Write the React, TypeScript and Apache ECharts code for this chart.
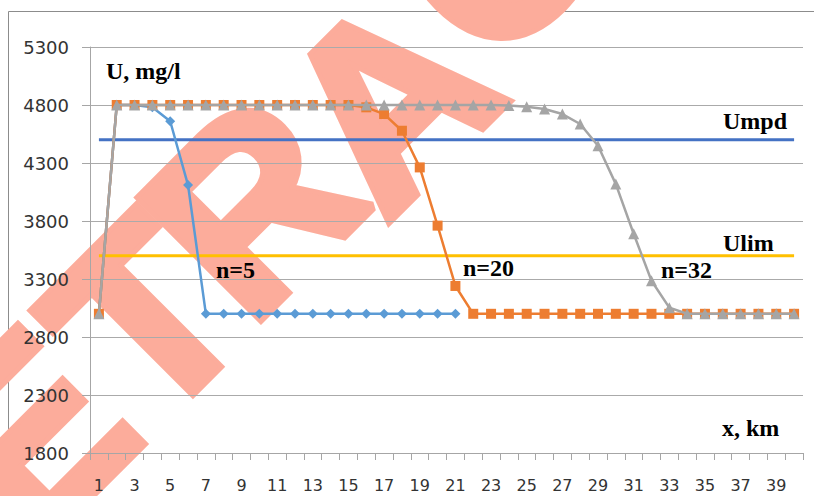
import React, { useEffect, useRef } from "react";
import * as echarts from "echarts";

const categories = [
  "1", "2", "3", "4", "5", "6", "7", "8", "9", "10",
  "11", "12", "13", "14", "15", "16", "17", "18", "19", "20",
  "21", "22", "23", "24", "25", "26", "27", "28", "29", "30",
  "31", "32", "33", "34", "35", "36", "37", "38", "39", "40",
];

// n = 5
const seriesN5 = [
  3000, 4800, 4800, 4780, 4660, 4110, 3000, 3000, 3000, 3000,
  3000, 3000, 3000, 3000, 3000, 3000, 3000, 3000, 3000, 3000,
  3000, null, null, null, null, null, null, null, null, null,
  null, null, null, null, null, null, null, null, null, null,
];

// n = 20
const seriesN20 = [
  3000, 4800, 4800, 4800, 4800, 4800, 4800, 4800, 4800, 4800,
  4800, 4800, 4800, 4800, 4800, 4780, 4722, 4578, 4262, 3760,
  3240, 3000, 3000, 3000, 3000, 3000, 3000, 3000, 3000, 3000,
  3000, 3000, 3000, 3000, 3000, 3000, 3000, 3000, 3000, 3000,
];

// n = 32
const seriesN32 = [
  3000, 4800, 4800, 4800, 4800, 4800, 4800, 4800, 4800, 4800,
  4800, 4800, 4800, 4800, 4800, 4800, 4800, 4800, 4800, 4800,
  4800, 4800, 4800, 4795, 4785, 4765, 4722, 4636, 4448, 4118,
  3690, 3285, 3053, 3000, 3000, 3000, 3000, 3000, 3000, 3000,
];

const UMPD = 4500;
const ULIM = 3500;

const yMin = 1800;
const yMax = 5300;
const yStep = 500;

const serif = "'Liberation Serif', 'Times New Roman', serif";
const sans = "'DejaVu Sans', sans-serif";

export default function App() {
  const ref = useRef<HTMLDivElement>(null);

  useEffect(() => {
    if (!ref.current) return;
    const chart = echarts.init(ref.current, undefined, { renderer: "svg" });

    const label = (text: string, x: number, y: number) => ({
      type: "text",
      x,
      y,
      z: 50,
      style: {
        text,
        fill: "#000",
        font: `bold 24px ${serif}`,
        textAlign: "left",
        textVerticalAlign: "middle",
      },
    });

    const wm = (text: string, x: number, y: number) => ({
      type: "text",
      x,
      y,
      rotation: (45 * Math.PI) / 180,
      z: -10,
      silent: true,
      style: {
        text,
        fill: "#FCAC9B",
        stroke: "#FCAC9B",
        lineWidth: 10,
        lineJoin: "round",
        font: `bold 248px 'Liberation Sans', Arial, sans-serif`,
        textAlign: "center",
        textVerticalAlign: "middle",
      },
    });

    chart.setOption({
      animation: false,
      backgroundColor: "#ffffff",
      grid: { left: 90, right: 11, top: 47, bottom: 43 },
      xAxis: {
        type: "category",
        data: categories,
        boundaryGap: true,
        axisLine: { lineStyle: { color: "#a6a6a6", width: 1 } },
        axisTick: { show: true, interval: 0, length: 7, lineStyle: { color: "#a6a6a6" } },
        axisLabel: {
          interval: 1,
          margin: 24,
          fontSize: 16,
          fontFamily: sans,
          color: "#333",
        },
        splitLine: { show: false },
      },
      yAxis: {
        type: "value",
        min: yMin,
        max: yMax,
        interval: yStep,
        axisLine: { show: true, lineStyle: { color: "#a6a6a6", width: 1 } },
        axisTick: { show: true, length: 8, lineStyle: { color: "#a6a6a6" } },
        axisLabel: {
          margin: 21,
          fontSize: 18,
          fontFamily: sans,
          color: "#333",
          formatter: (v: number) => String(v),
        },
        splitLine: { show: true, lineStyle: { color: "#aaaaaa", width: 1 } },
      },
      series: [
        {
          name: "Umpd",
          type: "line",
          data: categories.map(() => UMPD),
          symbol: "none",
          lineStyle: { color: "#4472C4", width: 3 },
          z: 1,
        },
        {
          name: "Ulim",
          type: "line",
          data: categories.map(() => ULIM),
          symbol: "none",
          lineStyle: { color: "#FFC000", width: 3 },
          z: 1,
        },
        {
          name: "n=5",
          type: "line",
          data: seriesN5,
          symbol: "diamond",
          symbolSize: 10,
          itemStyle: { color: "#5B9BD5" },
          lineStyle: { color: "#5B9BD5", width: 2.5 },
          z: 2,
        },
        {
          name: "n=20",
          type: "line",
          data: seriesN20,
          symbol: "rect",
          symbolSize: 10,
          itemStyle: { color: "#ED7D31" },
          lineStyle: { color: "#ED7D31", width: 2.5 },
          z: 3,
        },
        {
          name: "n=32",
          type: "line",
          data: seriesN32,
          symbol: "triangle",
          symbolSize: 11,
          itemStyle: { color: "#A5A5A5" },
          lineStyle: { color: "#A5A5A5", width: 2.5 },
          z: 4,
        },
      ],
      graphic: [
        {
          type: "rect",
          z: -20,
          silent: true,
          shape: { x: 8.5, y: 11.5, width: 1000, height: 1000 },
          style: { fill: "none", stroke: "#8c8c8c", lineWidth: 1 },
        },
        wm("E", 30, 435),
        wm("T", 145, 319),
        wm("R", 252, 206),
        wm("A", 388, 100),
        wm("C", 495, -50),
        label("U, mg/l", 106, 71),
        label("Umpd", 723, 121),
        label("Ulim", 723, 243),
        label("n=5", 216, 270),
        label("n=20", 463, 268),
        label("n=32", 661, 270),
        label("x, km", 722, 428),
      ],
    });

    return () => chart.dispose();
  }, []);

  return (
    <div
      ref={ref}
      style={{ position: "absolute", left: 0, top: 0, width: 814, height: 496 }}
    />
  );
}
